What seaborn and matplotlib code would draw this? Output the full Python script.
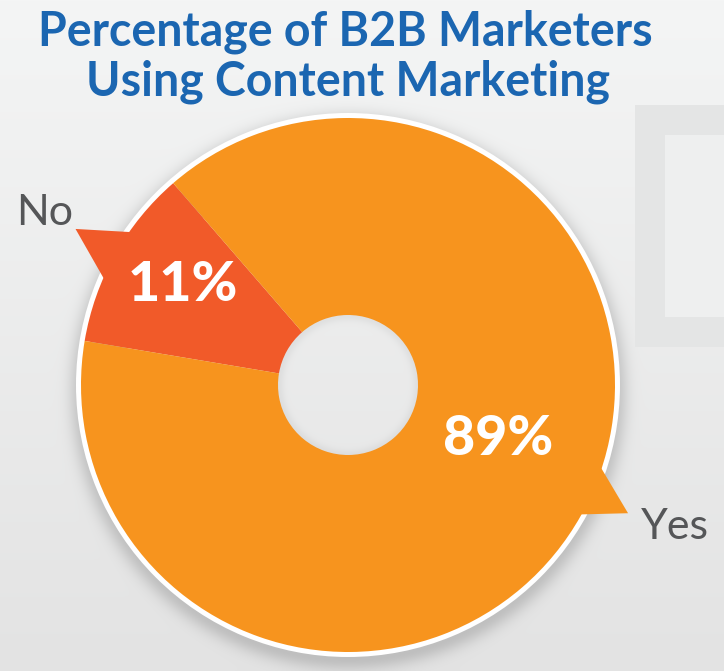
import numpy as np
import matplotlib
matplotlib.use("Agg")
import matplotlib.pyplot as plt
import seaborn as sns
from matplotlib.patches import Wedge, Polygon, Rectangle

# ---- data ----
categories = ["No", "Yes"]
values = [11, 89]
pct_labels = ["11%", "89%"]
title_lines = ["Percentage of B2B Marketers", "Using Content Marketing"]

W, H = 724, 671
sns.set_theme(style="white")
plt.rcParams['font.family'] = ['Lato', 'DejaVu Sans']

colors = ["#F15A29", "#F7941E"]
fig = plt.figure(figsize=(W / 100, H / 100), dpi=100)
ax = fig.add_axes([0, 0, 1, 1])

cx, cy, R, r_in = 348, H - 385, 267, 70

# background gradient + soft shadow
yy, xx = np.mgrid[0:H, 0:W]
t = yy / H
top = np.array([0xf4, 0xf5, 0xf5]) / 255
bot = np.array([0xe3, 0xe3, 0xe3]) / 255
img = top[None, None, :] * (1 - t[..., None]) + bot[None, None, :] * t[..., None]
d = np.hypot(xx - cx, yy - (385 + 6))
sh = np.exp(-np.clip(d - R, 0, None) ** 2 / (2 * 9 ** 2)) * (d > R - 40)
img = img * (1 - 0.16 * sh[..., None])
dh = np.hypot(xx - cx, yy - 385)
inner = np.exp(-np.clip(r_in - dh, 0, None) ** 2 / (2 * 4 ** 2)) * (dh < r_in + 2)
img = img * (1 - 0.05 * inner[..., None])
ax.imshow(img, extent=(0, W, 0, H), origin='upper', zorder=0, aspect='auto')

# faint frame shape at right
ax.add_patch(Rectangle((635, H - 347), 120, 242, fc='#e4e5e5', ec='none', zorder=0.2))
ax.add_patch(Rectangle((665, H - 317), 90, 182, fc='#eeefef', ec='none', zorder=0.3))

# white rim
ax.add_patch(Wedge((cx, cy), R + 5, 0, 360, width=12, fc='white', ec='none', zorder=0.5))

start = 130.9
wedges, _ = ax.pie(values, colors=colors, startangle=start, counterclock=True,
                   radius=R, center=(cx, cy),
                   wedgeprops=dict(width=R - r_in, linewidth=0))
for w in wedges:
    w.set_zorder(1)


def pol(a, rr):
    a = np.deg2rad(a)
    return (cx + rr * np.cos(a), cy + rr * np.sin(a))


# callout pointers
ptr_no = [pol(144.5, R - 4), pol(150.2, 314), pol(157.0, R - 4)]
ptr_yes = [pol(-17.5, R - 4), pol(-24.6, 308), pol(-29.5, R - 4)]
ax.add_patch(Polygon(ptr_no, closed=True, fc=colors[0], ec='none', zorder=1.5))
ax.add_patch(Polygon(ptr_yes, closed=True, fc=colors[1], ec='none', zorder=1.5))

# labels
ax.text(45, H - 213, categories[0], fontsize=31, color='#555658', ha='center', va='center',
        fontweight='normal', zorder=3)
ax.text(675, H - 527, categories[1], fontsize=31, color='#555658', ha='center', va='center',
        fontweight='normal', zorder=3)
ax.text(183, H - 285, pct_labels[0], fontsize=40, color='white', ha='center', va='center',
        fontweight='black', zorder=3)
ax.text(498, H - 439, pct_labels[1], fontsize=40, color='white', ha='center', va='center',
        fontweight='black', zorder=3)

# title
ax.text(345, H - 46, title_lines[0], fontsize=33.5, color='#1b66b1', ha='center', va='baseline',
        fontweight='bold', zorder=3)
ax.text(348, H - 95, title_lines[1], fontsize=33.5, color='#1b66b1', ha='center', va='baseline',
        fontweight='bold', zorder=3)

ax.set_xlim(0, W)
ax.set_ylim(0, H)
ax.set_aspect('auto')
ax.axis('off')
fig.savefig("out.png", dpi=100)
